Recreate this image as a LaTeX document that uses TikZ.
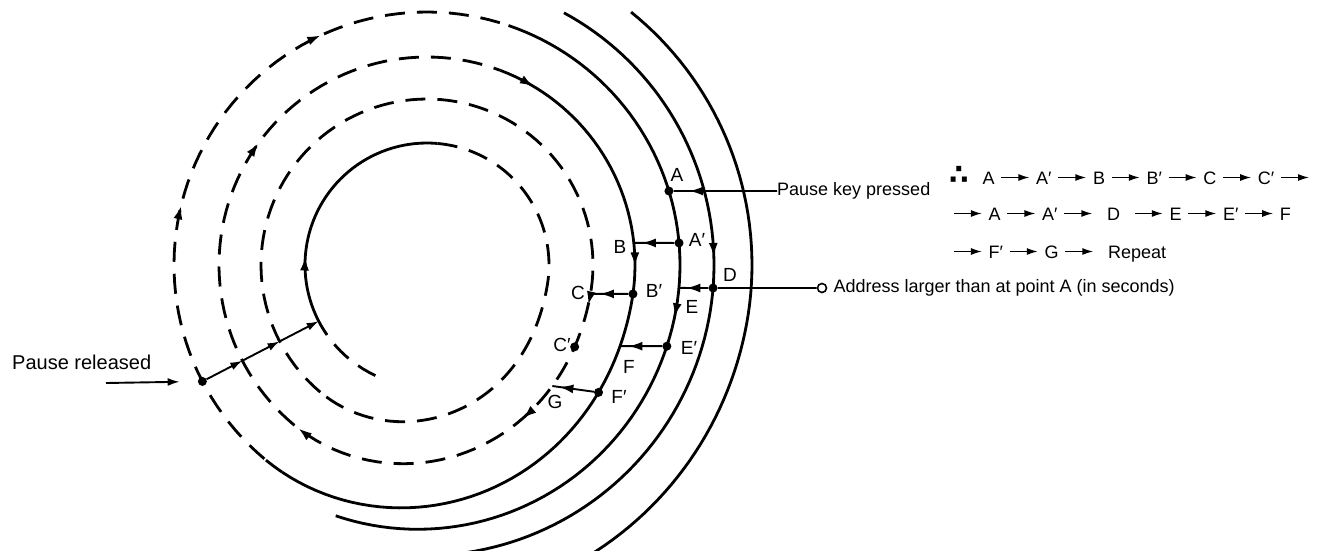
\documentclass[tikz,border=0pt]{standalone}
\usepackage{fontspec}
\setmainfont{Liberation Sans}
\newfontfamily\symfont{DejaVu Sans}
\usetikzlibrary{arrows.meta, positioning, decorations.markings}

% small arrow used inside the sequence text
\newcommand{\seqar}{\hspace{6pt}\tikz[baseline=-6.5pt]\draw[line width=1.5pt,-{Latex[length=11pt,width=7pt]}] (0,0) -- (28pt,0);\hspace{6pt}}

\begin{document}
\begin{tikzpicture}[x=1pt, y=-1pt,
    declare function={
      ss(\q)=(min(max(\q,0),1))^2*(3-2*min(max(\q,0),1));
      trk(\ph,\ra,\rb)=\ra+(\rb-\ra)*ss((\ph-100)/120);
      rx(\pa,\ru,\rv)=427+trk(\pa,\ru,\rv)*sin(\pa);
      ry(\pa,\ru,\rv)=265-trk(\pa,\ru,\rv)*cos(\pa);
    },
    groove/.style={line width=2.8pt},
    skipped/.style={groove, dash pattern=on 20pt off 12pt},
    link/.style={line width=1.9pt},
    flowat/.style={postaction={decorate, decoration={markings, mark=at position #1 with {\arrow{Latex[length=14pt,width=9pt]}}}}},
    spot/.style={circle, fill, inner sep=0pt, minimum size=9pt},
    hole/.style={circle, draw, line width=1.6pt, fill=white, inner sep=0pt, minimum size=9pt},
    txt/.style={font=\fontsize{18}{22}\selectfont, inner sep=0pt},
    lab/.style={font=\fontsize{19}{22}\selectfont, inner sep=0pt}]

    \useasboundingbox (0,0) rectangle (1326,550);
    \clip (0,0) rectangle (1326,550);

    % turn 1 (innermost)
    \draw[skipped] plot[domain=-155:-125, samples=10] ({rx(\x,122,166)},{ry(\x,122,166)});
    \draw[groove, flowat=83pt] plot[domain=-125:5, samples=50] ({rx(\x,122,166)},{ry(\x,122,166)});
    \draw[skipped] plot[domain=5:220, samples=90] ({rx(\x,122,166)},{ry(\x,122,166)});

    % turn 2 (track of C)
    \draw[skipped, flowat=707pt, flowat=840pt, flowat=-6pt] plot[domain=-140:220, samples=140] ({rx(\x,166,208)},{ry(\x,166,208)});

    % turn 3 (track of B)
    \draw[skipped, flowat=312pt] plot[domain=-140:20.7, samples=70] ({rx(\x,208,253)},{ry(\x,208,253)});
    \draw[groove, flowat=37pt, flowat=253pt] plot[domain=20.7:215, samples=90] ({rx(\x,208,253)},{ry(\x,208,253)});
    \draw[skipped] plot[domain=215:220, samples=5] ({rx(\x,208,253)},{ry(\x,208,253)});

    % turn 4 (track of A)
    \draw[skipped, flowat=281pt, flowat=509pt] plot[domain=-140:18.8, samples=70] ({rx(\x,253,287)},{ry(\x,253,287)});
    \draw[groove, flowat=367pt] plot[domain=18.8:200, samples=90] ({rx(\x,253,268)},{ry(\x,253,268)});

    % turn 5 (track of D) and outer turn
    \draw[groove, flowat=300pt] plot[domain=28.5:172, samples=80] ({rx(\x,287,292)},{ry(\x,287,292)});
    \draw[groove] plot[domain=38.9:160, samples=70] ({rx(\x,325,345)},{ry(\x,325,345)});

    % points on the tracks
    \node[spot] (A) at ({rx(73,253,287)},{ry(73,253,287)}) {};
    \node[spot] (Ap) at ({rx(85,253,287)},{ry(85,253,287)}) {};
    \coordinate (B) at ({rx(83.9,208,253)},{ry(83.9,208,253)});
    \node[spot] (Bp) at ({rx(98,208,253)},{ry(98,208,253)}) {};
    \coordinate (C) at ({rx(100,166,208)},{ry(100,166,208)});
    \node[spot] (Cp) at ({rx(119,166,208)},{ry(119,166,208)}) {};
    \node[spot] (D) at ({rx(94.6,287,292)},{ry(94.6,287,292)}) {};
    \coordinate (E) at ({rx(95.2,253,268)},{ry(95.2,253,268)});
    \node[spot] (Ep) at ({rx(108.7,253,268)},{ry(108.7,253,268)}) {};
    \coordinate (F) at ({rx(112.8,208,253)},{ry(112.8,208,253)});
    \node[spot] (Fp) at ({rx(126.6,208,253)},{ry(126.6,208,253)}) {};
    \coordinate (G) at ({rx(134,166,208)},{ry(134,166,208)});

    % point where the pause is released, and the jumps inwards
    \node[spot] (P4) at ({rx(-117.4,253,287)},{ry(-117.4,253,287)}) {};
    \coordinate (P3) at ({rx(-117.4,208,253)},{ry(-117.4,208,253)});
    \coordinate (P2) at ({rx(-117.4,166,208)},{ry(-117.4,166,208)});
    \coordinate (P1) at ({rx(-117.4,122,166)},{ry(-117.4,122,166)});
    \draw[link, -{Latex[length=12pt,width=8pt]}] (P4) -- (P3);
    \draw[link, -{Latex[length=12pt,width=8pt]}] (P3) -- (P2);
    \draw[link, -{Latex[length=12pt,width=8pt]}] (P2) -- (P1);

    % labels of the points
    \node[lab] (lA) at (677,175) {A};
    \node[lab] (lAp) at (697,240) {A′};
    \node[lab] (lB) at (620,247) {B};
    \node[lab] (lBp) at (654,291) {B′};
    \node[lab] (lC) at (578,293) {C};
    \node[lab] (lD) at (730,275) {D};
    \node[lab] (lE) at (692,307) {E};
    \node[lab] (lCp) at (562,345) {C′};
    \node[lab] (lEp) at (689,348) {E′};
    \node[lab] (lF) at (629,367) {F};
    \node[lab] (lFp) at (619,397) {F′};
    \node[lab] (lG) at (555,402) {G};

    % jumps between the tracks
    \draw[link, flowat=0.8] (Ap) -- (B);
    \draw[link, flowat=0.75] (Bp) -- (C);
    \draw[link, flowat=0.75] (D) -- (E);
    \draw[link, flowat=0.8] (Ep) -- (F);
    \draw[link, flowat=0.83] (Fp) -- (G);

    % pause key
    \node[txt, anchor=west] (pkey) at (777,191) {Pause key pressed};
    \draw[link, flowat=0.85] (pkey.west) -- (A);

    % address input
    \node[hole] (port) at (822,288) {};
    \node[txt, right=6pt of port] (addr) {Address larger than at point A (in seconds)};
    \draw[link] (port) -- (D);

    % pause released
    \node[txt, font=\fontsize{20}{24}\selectfont, anchor=west] (prel) at (12,362) {Pause released};
    \coordinate (prtail) at (106,383);
    \draw[link, -{Latex[length=12pt,width=8pt]}, shorten >=18pt] (prtail) -- (P4);

    % sequence of the jumps
    \node[txt, anchor=base west] (seq1) at (949,184) {{\symfont\bfseries\fontsize{28}{28}\selectfont ∴}\hspace{14pt}A\seqar A′\seqar B\seqar B′\seqar C\seqar C′\seqar};
    \node[txt, anchor=base west] (seq2) at (947,220) {\seqar A\seqar A′\seqar\hspace{8pt}D\hspace{8pt}\seqar E\seqar E′\seqar F};
    \node[txt, anchor=base west] (seq3) at (947,258) {\seqar F′\seqar G\seqar\hspace{8pt}Repeat};

\end{tikzpicture}
\end{document}
